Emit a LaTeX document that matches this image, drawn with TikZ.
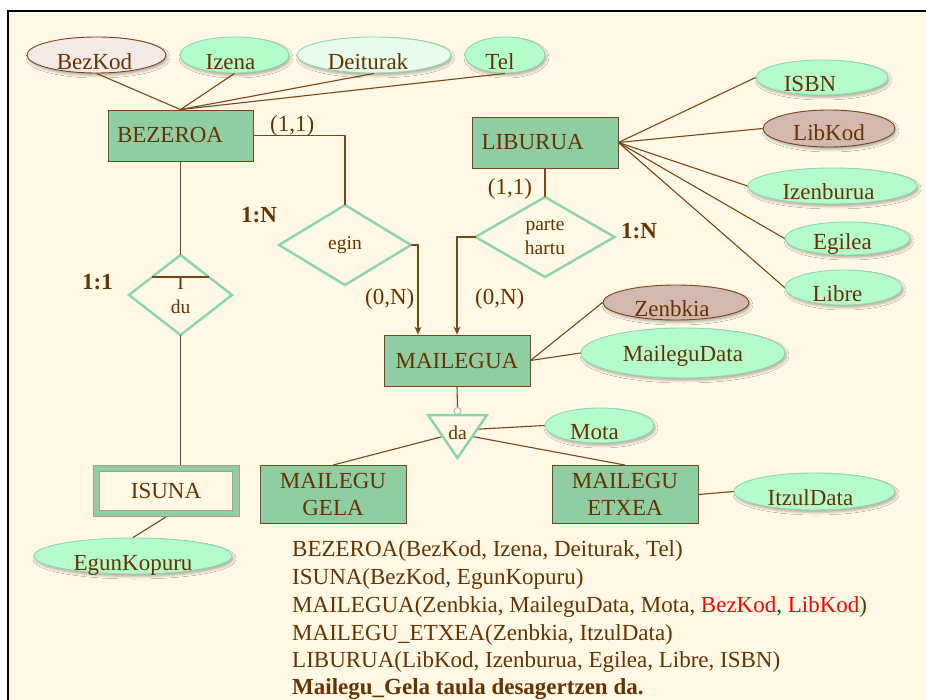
\documentclass[tikz,border=0pt]{standalone}
\usepackage{fontspec}
\setmainfont{Liberation Serif}
\usetikzlibrary{shapes.geometric,arrows.meta,calc,shadows.blur}

\definecolor{paper}{HTML}{FFF8E5}
\definecolor{ink}{HTML}{663300}
\definecolor{wire}{HTML}{7A4519}
\definecolor{entgreen}{HTML}{8FCEA3}
\definecolor{relgreen}{HTML}{8ED6AA}
\definecolor{attgreen}{HTML}{B5FCCB}
\definecolor{attedge}{HTML}{8FD8A9}
\definecolor{keyfill}{HTML}{D3B8AE}
\definecolor{pkfill}{HTML}{F3E9E7}
\definecolor{palegreen}{HTML}{E7FCEC}
\definecolor{keyred}{HTML}{FF0000}

\begin{document}
\begin{tikzpicture}[x=1pt,y=-1pt,
  every node/.style={text=ink, font=\fontsize{23}{27}\selectfont},
  ent/.style={draw=wire, fill=entgreen, line width=0.9pt, minimum height=51pt, inner sep=0pt},
  attr/.style={ellipse, draw=attedge, fill=attgreen, line width=0.9pt, inner sep=0pt,
    blur shadow={shadow xshift=1.5pt, shadow yshift=-2.5pt, shadow blur radius=2.5pt, shadow opacity=30}},
  keyattr/.style={attr, draw=wire, fill=keyfill},
  lab/.style={text height=15pt, text depth=5pt, inner sep=0pt, yshift=-9pt},
  rel/.style={diamond, aspect=1.7, draw=relgreen, line width=2.5pt, fill=paper, inner sep=0pt,
    outer sep=0pt, align=center, font=\fontsize{19.5}{24}\selectfont},
  wireline/.style={draw=wire, line width=1.1pt},
  arr/.style={wireline, -{Stealth[length=8pt,width=7pt]}},
  tag/.style={inner sep=0pt},
  bigtag/.style={inner sep=0pt, font=\fontsize{23}{27}\selectfont\bfseries},
  schema/.style={anchor=base west, inner sep=0pt}
]
\useasboundingbox (0,0) rectangle (926,700);
\fill[white] (0,0) rectangle (926,700);
\fill[paper] (8,11) rectangle (926,700);
\draw[black, line width=2.6pt] (8,700) -- (8,11) -- (926,11);

% entities
\node[ent, text width=127pt, inner xsep=9pt, align=left] (bez) at (180.5,135.5) {BEZEROA};
\node[ent, text width=127pt, inner xsep=9.5pt, align=left] (lib) at (545,142.5) {LIBURUA};
\node[ent, minimum width=146pt] (mai) at (457,360.5) {MAILEGUA};
\node[ent, minimum width=146pt, minimum height=58pt, align=center,
      font=\fontsize{23}{27}\selectfont] (gela) at (333,494.5) {MAILEGU\\GELA};
\node[ent, minimum width=146pt, minimum height=58pt, align=center,
      font=\fontsize{23}{27}\selectfont] (etxea) at (625,494.5) {MAILEGU\\ETXEA};

% weak entity
\node[draw=wire!55, fill=entgreen, line width=0.9pt, minimum width=146pt, minimum height=51pt, inner sep=0pt] (isuna) at (166,491) {};
\node[draw=wire!55, fill=paper, line width=0.9pt, minimum width=133pt, minimum height=39pt, inner sep=0pt] (isunain) at (isuna.center) {ISUNA};

% attributes of BEZEROA
\node[attr, draw=wire, fill=pkfill, minimum width=139pt, minimum height=36pt, label={[lab, xshift=-2pt, yshift=-1pt]center:BezKod}] (bezkod) at (96.5,55) {};
\node[attr, minimum width=109pt, minimum height=36pt, label={[lab, xshift=-4pt, yshift=-1pt]center:Izena}] (izena) at (234.5,55) {};
\node[attr, fill=palegreen, minimum width=154pt, minimum height=36pt, label={[lab, xshift=-6pt, yshift=-1pt]center:Deiturak}] (deit) at (374,55) {};
\node[attr, minimum width=80pt, minimum height=36pt, label={[lab, xshift=-5pt, yshift=-1pt]center:Tel}] (tel) at (505,55) {};

% attributes of LIBURUA
\node[attr, minimum width=132pt, minimum height=35pt, label={[lab, xshift=-12pt]center:ISBN}] (isbn) at (822,77.5) {};
\node[keyattr, minimum width=132pt, minimum height=37pt, label={[lab, yshift=2pt]center:LibKod}] (libkod) at (829,128.5) {};
\node[attr, minimum width=169pt, minimum height=36pt, label={[lab, xshift=-4pt]center:Izenburua}] (izenb) at (832.5,186) {};
\node[attr, minimum width=125pt, minimum height=33pt, label={[lab, xshift=-5pt, yshift=2.5pt]center:Egilea}] (egilea) at (847.5,238.5) {};
\node[attr, minimum width=117pt, minimum height=35pt, label={[lab, xshift=-6pt]center:Libre}] (libre) at (843.5,287.5) {};

% attributes of MAILEGUA and its subtypes
\node[keyattr, minimum width=146pt, minimum height=35pt, label={[lab, xshift=-4pt]center:Zenbkia}] (zenb) at (676,302.5) {};
\node[attr, minimum width=204pt, minimum height=50pt, label={[lab, yshift=5pt]center:MaileguData}] (mdata) at (683,353) {};
\node[attr, minimum width=109pt, minimum height=35pt, label={[lab, xshift=-5pt]center:Mota}] (mota) at (599.5,425.5) {};
\node[attr, minimum width=161pt, minimum height=37pt, label={[lab, xshift=-4pt]center:ItzulData}] (itzul) at (814.5,491.5) {};
\node[attr, minimum width=198pt, minimum height=36pt, label={[lab]center:EgunKopuru}] (egun) at (133,556) {};

% relationships
\node[rel, minimum width=132pt, minimum height=80pt] (egin) at (345,245) {egin};
\node[rel, minimum width=139pt, minimum height=80pt] (parte) at (545,237) {parte\\hartu};
\node[rel, minimum width=103pt, minimum height=80pt] (du) at (180.5,295) {I\\du};

% attribute links
\foreach \a in {bezkod,izena,deit,tel}
  \draw[wireline] (bez.north) -- (\a.south);
\foreach \a in {isbn,libkod,izenb,egilea,libre}
  \draw[wireline] (lib.east) -- (\a.west);
\draw[wireline] (mai.east) -- (zenb.west);
\draw[wireline] (mai.east) -- (mdata.west);
\draw[wireline] (etxea.east) -- (itzul.west);
\draw[wireline] (isuna.south) -- (egun.north);

% relationship links
\draw[wireline] (bez.east) -| (egin.north);
\draw[arr] (egin.east) -| ([xshift=-39pt]mai.north);
\draw[wireline] (lib.south) -- (parte.north);
\draw[arr] (parte.west) -| (mai.north);
\draw[wireline] (bez.south) -- (du.north);
\draw[wireline] (du.south) -- (du.south |- isuna.north);
\draw[wireline] ($(du.north)!0.55!(du.west)$) -- ($(du.north)!0.55!(du.east)$);

% generalisation of MAILEGUA
\coordinate (tl) at (428,415);
\coordinate (tr) at (487,415);
\coordinate (tb) at (457.5,458);
\node[circle, draw=gray!55, fill=paper, line width=1pt, minimum size=7pt, inner sep=0pt] (ring) at (457.5,411) {};
\draw[wireline] (mai.south) -- (ring.north);
\draw[wireline] ($(tl)!0.5!(tb)$) -- (gela.north);
\draw[wireline] ($(tr)!0.5!(tb)$) -- (etxea.north);
\draw[wireline] ($(tr)!0.33!(tb)$) -- (mota.west);
\draw[relgreen, line width=2.5pt, line join=miter] (tl) -- (tr) -- (tb) -- cycle;
\node[font=\fontsize{19.5}{24}\selectfont, inner sep=0pt] (datext) at (457.5,433) {da};

% cardinalities
\node[tag, anchor=base west] (c11a) at (270,132) {(1,1)};
\node[bigtag, anchor=base west] (c1na) at (241,223) {1:N};
\node[tag, anchor=base west] (c0na) at (365,305) {(0,N)};
\node[tag, anchor=base] (c11b) at (510,195) {(1,1)};
\node[bigtag, anchor=base west] (c1nb) at (621,239) {1:N};
\node[tag, anchor=base west] (c0nb) at (475,305) {(0,N)};
\node[bigtag, anchor=base west] (c11c) at (82,290) {1:1};

% relational schema
\node[schema] (s1) at (292,556) {BEZEROA(BezKod, Izena, Deiturak, Tel)};
\node[schema] (s2) at (292,584) {ISUNA(BezKod, EgunKopuru)};
\node[schema] (s3) at (292,612) {MAILEGUA(Zenbkia, MaileguData, Mota, \textcolor{keyred}{BezKod}, \textcolor{keyred}{LibKod})};
\node[schema] (s4) at (292,640) {MAILEGU\_ETXEA(Zenbkia, ItzulData)};
\node[schema] (s5) at (292,667) {LIBURUA(LibKod, Izenburua, Egilea, Libre, ISBN)};
\node[schema, font=\fontsize{23}{27}\selectfont\bfseries] (s6) at (292,694) {Mailegu\_Gela taula desagertzen da.};
\end{tikzpicture}
\end{document}
